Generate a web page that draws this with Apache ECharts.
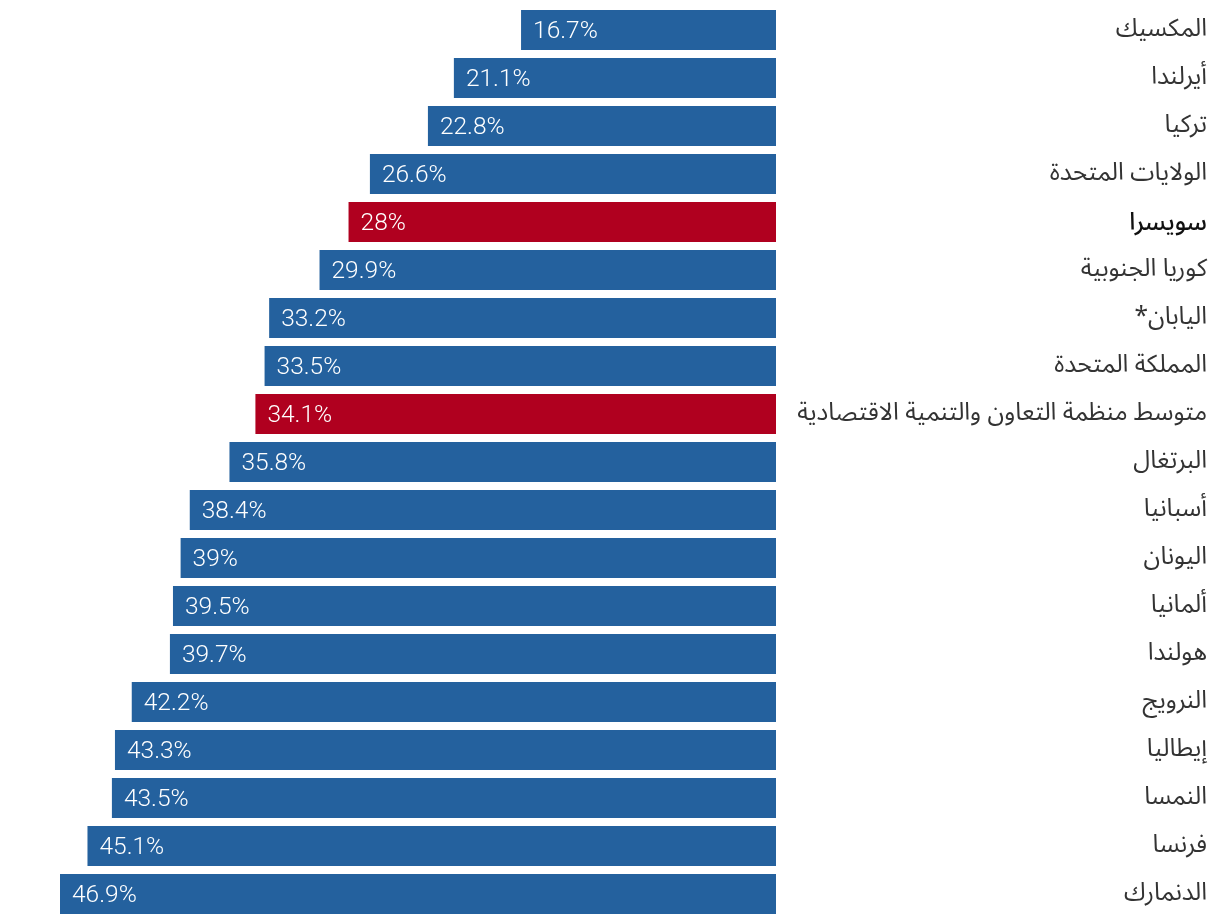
<!DOCTYPE html>
<html><head><meta charset="utf-8">
<script src="https://cdn.jsdelivr.net/npm/echarts@6/dist/echarts.min.js"></script>
<style>html,body{margin:0;padding:0;background:#fff}#c{width:1220px;height:924px}</style>
</head><body><div id="c"></div>
<script>
const categories = ['المكسيك','أيرلندا','تركيا','الولايات المتحدة','سويسرا','كوريا الجنوبية','اليابان*','المملكة المتحدة','متوسط منظمة التعاون والتنمية الاقتصادية','البرتغال','أسبانيا','اليونان','ألمانيا','هولندا','النرويج','إيطاليا','النمسا','فرنسا','الدنمارك'];
const values = [16.7,21.1,22.8,26.6,28,29.9,33.2,33.5,34.1,35.8,38.4,39,39.5,39.7,42.2,43.3,43.5,45.1,46.9];
const highlighted = ['سويسرا','متوسط منظمة التعاون والتنمية الاقتصادية'];
const boldLabels = ['سويسرا'];

const arabicFont = "'Noto Sans Arabic','DejaVu Sans',sans-serif";
const chart = echarts.init(document.getElementById('c'));
chart.setOption({
  animation: false,
  grid: {left: 60, right: 444, top: 6, bottom: 6, containLabel: false},
  xAxis: {type: 'value', inverse: true, min: 0, max: 46.9, show: false},
  yAxis: {
    type: 'category', data: categories, inverse: true, position: 'right',
    axisLine: {show: false}, axisTick: {show: false},
    axisLabel: {
      margin: 431, align: 'right', fontSize: 24.5, color: '#333', fontFamily: arabicFont,
      padding: [4, 0, 0, 0],
      formatter: v => (boldLabels.includes(v) ? '{b|' + v + '\u200F}' : v + '\u200F'),
      rich: {b: {fontSize: 24.5, fontWeight: 500, color: '#111', fontFamily: arabicFont, padding: [4, 0, 0, 0]}}
    }
  },
  series: [{
    type: 'bar', barWidth: 40,
    data: values.map((v, i) => ({value: v, itemStyle: {color: highlighted.includes(categories[i]) ? '#b0001f' : '#24619e'}})),
    label: {show: true, position: 'insideLeft', distance: 12, offset: [0, 2], color: '#fff', fontSize: 24.5, fontFamily: 'Roboto', fontWeight: 300,
      formatter: p => p.value + '%'}
  }]
});
</script></body></html>
